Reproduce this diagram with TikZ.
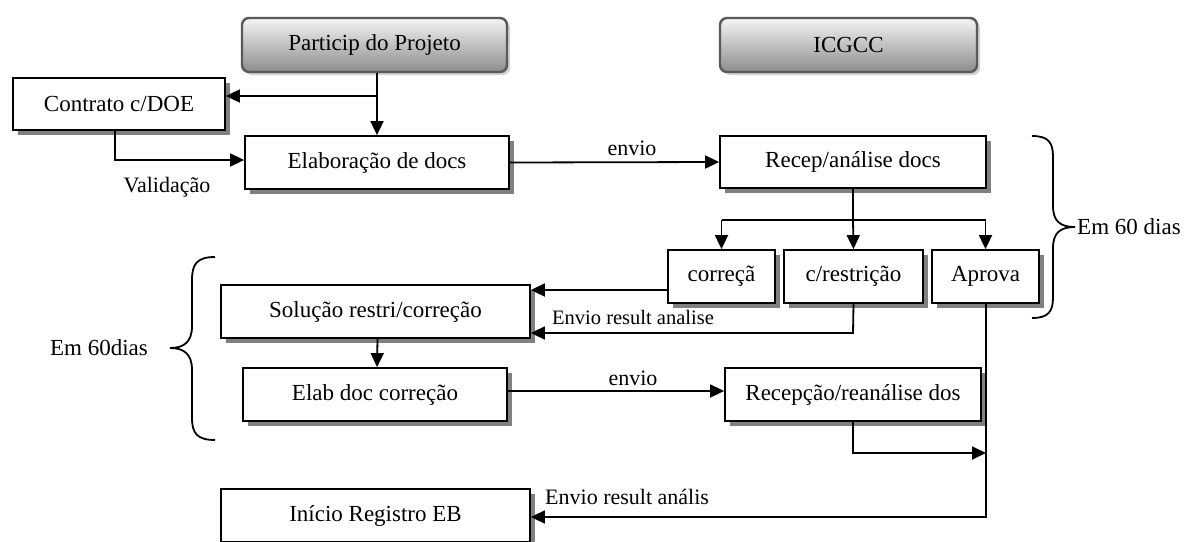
\documentclass[tikz,border=0pt]{standalone}
\usepackage{fontspec}
\setmainfont{Liberation Serif}
\usetikzlibrary{arrows.meta,shadows}
\begin{document}
\begin{tikzpicture}[x=1pt,y=-1pt,
  box/.style={draw=black, line width=1.8pt, fill=white, minimum height=53pt,
    inner sep=0pt, font=\fontsize{23}{27}\selectfont,
    general shadow={fill=black!50, shadow xshift=5pt, shadow yshift=-5pt}},
  header/.style={draw=black!65, line width=2.4pt, rounded corners=7pt,
    top color=black!4, bottom color=black!45, minimum height=54pt,
    inner sep=0pt, font=\fontsize{23}{27}\selectfont,
    general shadow={fill=black!18, shadow xshift=3pt, shadow yshift=-3pt}},
  arr/.style={line width=1.8pt, -{Triangle[length=14pt,width=13pt]}},
  ln/.style={line width=1.8pt},
  lbl/.style={inner sep=0pt, font=\fontsize{22}{26}\selectfont},
  small/.style={inner sep=0pt, font=\fontsize{20.5}{24}\selectfont},
  brace/.style={line width=1.8pt},
]
\useasboundingbox (0,0) rectangle (1186,541);

% column headers
\node[header, minimum width=265pt] (part) at (374.5,45) {Particip do Projeto};
\node[header, minimum width=257pt] (icg)  at (848.5,45) {ICGCC};

% process boxes
\node[box, minimum width=212pt, minimum height=52pt] (contr) at (119,104) {Contrato c/DOE};
\node[box, minimum width=264pt] (elab)   at (377,162.5) {Elaboração de docs};
\node[box, minimum width=266pt, minimum height=52pt] (recep) at (853,162) {Recep/análise docs};
\node[box, minimum width=107pt] (corr)   at (721.5,276.5) {correçã};
\node[box, minimum width=139pt] (restr)  at (853.5,276.5) {c/restrição};
\node[box, minimum width=107pt] (aprova) at (985.5,276.5) {Aprova};
\node[box, minimum width=309pt] (sol)    at (375.5,311.5) {Solução restri/correção};
\node[box, minimum width=264pt] (elabc)  at (375,394.5) {Elab doc correção};
\node[box, minimum width=256pt] (recepc) at (853,394.5) {Recepção/reanálise dos};
\node[box, minimum width=309pt] (inicio) at (375.5,515.5) {Início Registro EB};

% helper points
\coordinate (j1) at (377,96);
\coordinate (v1) at (115,160);
\coordinate (b1) at (853,220);
\coordinate (r1) at (853,333);
\coordinate (c1) at (721,290);
\coordinate (e1) at (600,391);
\coordinate (a1) at (986,517);
\coordinate (m1) at (853,453);

% connectors
\draw[arr] (elab.north |- part.south) -- (elab.north);
\draw[arr] (j1) -- (j1 -| contr.east);
\draw[arr] (v1 |- contr.south) -- (v1) -- (v1 -| elab.west);
\draw[arr] (elab.east) -- (recep.west);
\draw[ln] (recep.south) -- (b1);
\draw[arr] (b1) -- (restr.north);
\draw[ln] (corr.north |- b1) -- (aprova.north |- b1);
\draw[arr] (corr.north |- b1) -- (corr.north);
\draw[arr] (aprova.north |- b1) -- (aprova.north);
\draw[arr] (c1 -| corr.west) -- (c1 -| sol.east);
\draw[arr] (restr.south) -- (r1) -- (r1 -| sol.east);
\draw[arr] ([xshift=2pt]sol.south) -- ([xshift=2pt]elabc.north);
\draw[arr] (e1 -| elabc.east) -- (e1 -| recepc.west);
\draw[arr] (aprova.south -| a1) -- (a1) -- (a1 -| inicio.east);
\draw[arr] (recepc.south) -- (m1) -- (m1 -| a1);

% labels
\node[lbl] (lv) at (167,187) {Validação};
\node[lbl] (le1) at (632,148) {envio};
\node[lbl] (le2) at (633,378) {envio};
\node[small, anchor=west] (lr1) at (552,317) {Envio result analise};
\node[lbl, anchor=west] (lr2) at (545,497) {Envio result anális};

% braces
\draw[brace] (215,257) .. controls (197,257) and (192,264) .. (192,280)
  -- (192,326) .. controls (192,342) and (184,348) .. (170,348)
  .. controls (184,348) and (192,354) .. (192,370)
  -- (192,418) .. controls (192,433) and (197,440) .. (215,440);
\node[lbl, font=\fontsize{23}{27}\selectfont] (d1) at (99,348) {Em 60dias};

\draw[brace] (1032,136) .. controls (1049,136) and (1053,143) .. (1053,157)
  -- (1053,206) .. controls (1053,221) and (1060,227) .. (1075,227)
  .. controls (1060,227) and (1053,233) .. (1053,248)
  -- (1053,297) .. controls (1053,311) and (1049,318) .. (1032,318);
\node[lbl, font=\fontsize{23}{27}\selectfont, anchor=west] (d2) at (1077,227) {Em 60 dias};
\end{tikzpicture}
\end{document}
